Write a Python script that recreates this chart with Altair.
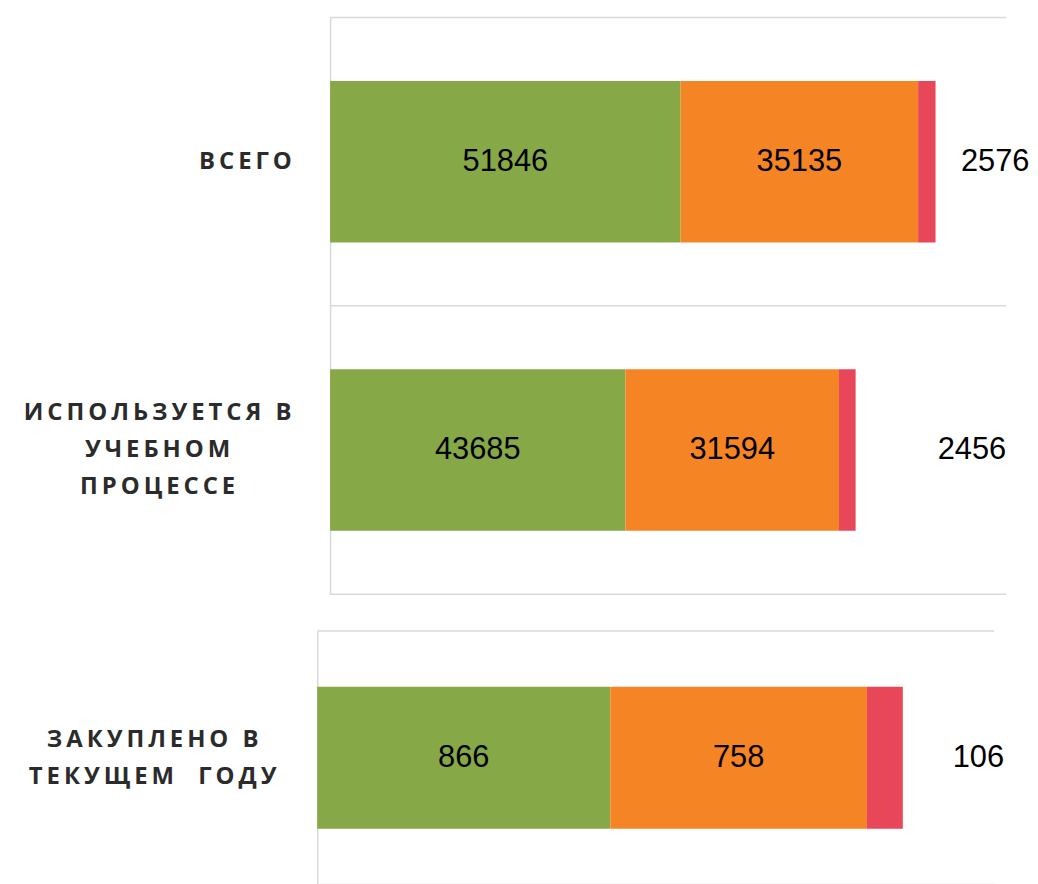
import altair as alt
import pandas as pd

# ---- data ----
categories_top = ["ВСЕГО", "ИСПОЛЬЗУЕТСЯ В\nУЧЕБНОМ\nПРОЦЕССЕ"]
categories_bottom = ["ЗАКУПЛЕНО В\nТЕКУЩЕМ  ГОДУ"]
series = ["Ряд 1", "Ряд 2", "Ряд 3"]
values_vsego = [51846, 35135, 2576]
values_used = [43685, 31594, 2456]
values_bought = [866, 758, 106]
colors = ["#87A846", "#F58424", "#E8475A"]

SP = "\u2009"  # letter spacing for the category labels
GRID = "#D9D9D9"
P_IN, P_OUT = 0.44, 0.22


def make_df(cats, rows):
    recs = []
    for r, (c, vals) in enumerate(zip(cats, rows)):
        for k, (s, v) in enumerate(zip(series, vals)):
            recs.append({"cat": c, "row": r, "series": s, "order": k + 1, "value": v})
    return pd.DataFrame(recs)


def panel(cats, rows, xmax, height, width, shift, align_cond, pad_cond, off_cond, red_dx):
    df = make_df(cats, rows)
    n = len(cats)
    step = height / (n - P_IN + 2 * P_OUT)
    edge = P_OUT * step  # pixels from bar edge to band boundary

    base = alt.Chart(df).transform_stack(
        stack="value", groupby=["cat"], as_=["x0", "x1"], sort=[alt.SortField("order")]
    ).transform_calculate(mid="(datum.x0 + datum.x1) / 2")

    yscale = alt.Scale(paddingInner=P_IN, paddingOuter=P_OUT)
    yaxis = alt.Axis(
        domainColor=GRID,
        domainWidth=1.5,
        ticks=False,
        grid=False,
        offset=-shift,
        labelFont="Open Sans",
        labelFontWeight="bold",
        labelFontSize=24,
        labelColor="#2b2b2b",
        labelLineHeight=37,
        labelBaseline="middle",
        labelAlign=align_cond,
        labelPadding=pad_cond,
        labelOffset=off_cond,
        labelLimit=0,
        labelExpr=f"split(replace(datum.label, regexp('(.)(?=.)', 'g'), '$1{SP}'), '\\n')",
    )
    y = alt.Y("cat:N", sort=cats, title=None, scale=yscale, axis=yaxis)
    xscale = alt.Scale(domain=[0, xmax], nice=False, range=[shift, width])

    grid_top = base.transform_filter("datum.order == 1").mark_rule(
        color=GRID, strokeWidth=1.5, yOffset=-edge
    ).encode(
        y=alt.Y("cat:N", sort=cats, title=None, scale=yscale, axis=yaxis, bandPosition=0),
        x=alt.datum(0, scale=xscale, axis=None),
        x2=alt.datum(xmax),
    )
    last = n - 1
    grid_bottom = base.transform_filter(f"datum.order == 1 && datum.row == {last}").mark_rule(
        color=GRID, strokeWidth=1.5, yOffset=edge
    ).encode(
        y=alt.Y("cat:N", sort=cats, title=None, scale=yscale, axis=yaxis, bandPosition=1),
        x=alt.datum(0, scale=xscale, axis=None),
        x2=alt.datum(xmax),
    )

    bars = base.mark_bar().encode(
        x=alt.X("x0:Q", scale=xscale, axis=None),
        x2="x1:Q",
        y=y,
        color=alt.Color("series:N", scale=alt.Scale(domain=series, range=colors), legend=None),
    )
    inner = base.transform_filter("datum.order < 3").mark_text(
        font="Liberation Sans", fontSize=31, color="black", baseline="middle", align="center"
    ).encode(
        x=alt.X("mid:Q", scale=xscale, axis=None),
        y=y,
        text=alt.Text("value:Q", format="d"),
    )
    layers = [grid_top, grid_bottom, bars, inner]
    for r, dx in enumerate(red_dx):
        layers.append(
            base.transform_filter(f"datum.order == 3 && datum.row == {r}").mark_text(
                font="Liberation Sans", fontSize=31, color="black", baseline="middle",
                align="center", dx=dx
            ).encode(
                x=alt.X("x1:Q", scale=xscale, axis=None),
                y=y,
                text=alt.Text("value:Q", format="d"),
            )
        )
    return alt.layer(*layers).properties(width=width, height=height)


is_vsego = "datum.value == 'ВСЕГО'"
top = panel(
    categories_top,
    [values_vsego, values_used],
    100000,
    580,
    693,
    13,
    {"condition": {"test": is_vsego, "value": "right"}, "value": "center"},
    {"condition": {"test": is_vsego, "value": 39}, "value": 174},
    {"condition": {"test": is_vsego, "value": 0}, "value": -37},
    [60, 117],
)
bottom = panel(
    categories_bottom,
    [values_bought],
    2000,
    255,
    681,
    0,
    "center",
    166,
    -18,
    [76],
)

chart = alt.vconcat(top, bottom, spacing=35).properties(
    padding={"left": 15, "top": 6, "right": 0, "bottom": 0}
).configure_view(stroke=None)

chart.save("out.html", embed_options={"renderer": "svg", "actions": False})
